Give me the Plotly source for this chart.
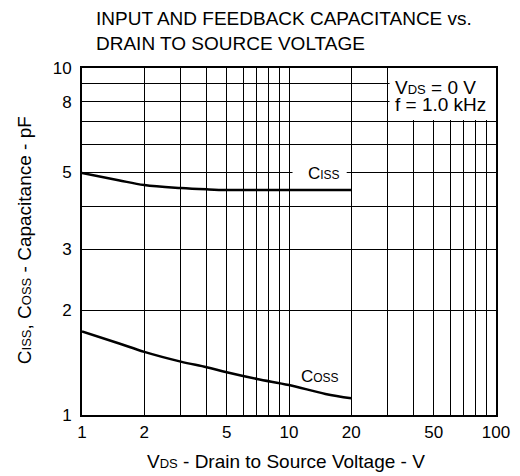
import plotly.graph_objects as go

# ---- data ----
vds = [1, 1.5, 2, 3, 4, 5, 7, 10, 15, 20]
ciss = [4.98, 4.75, 4.60, 4.51, 4.47, 4.45, 4.45, 4.45, 4.45, 4.45]
coss = [1.74, 1.61, 1.52, 1.425, 1.373, 1.328, 1.27, 1.22, 1.15, 1.117]

x_major = [1, 2, 5, 10, 20, 50, 100]
x_major_text = ["1", "2", "5", "10", "20", "50", "100"]
x_minor = [3, 4, 6, 7, 8, 9, 30, 40, 60, 70, 80, 90]
y_major = [1, 2, 3, 5, 8, 10]
y_major_text = ["1", "2", "3", "5", "8", "10"]
y_minor = [4, 6, 7, 9]

FONT = "Liberation Sans, Arial, sans-serif"


def sm(t, size=12):
    return '<span style="font-size:%dpx">%s</span>' % (size, t)


fig = go.Figure()
fig.add_trace(go.Scatter(x=vds, y=ciss, mode="lines", line=dict(color="black", width=2.5, shape="spline"),
                         showlegend=False, hoverinfo="skip"))
fig.add_trace(go.Scatter(x=vds, y=coss, mode="lines", line=dict(color="black", width=2.5, shape="spline"),
                         showlegend=False, hoverinfo="skip"))

# page body adds 8px margin; figure sized so that the plot area lands where the reference has it
fig.update_layout(
    width=512, height=468,
    margin=dict(l=74, r=24, t=60, b=61, autoexpand=False),
    paper_bgcolor="white", plot_bgcolor="white",
    font=dict(family=FONT, size=17, color="black"),
    xaxis=dict(type="log", range=[0, 2], tickvals=x_major, ticktext=x_major_text,
               showgrid=True, gridcolor="black", gridwidth=1,
               minor=dict(tickvals=x_minor, showgrid=True, gridcolor="black", gridwidth=1, ticklen=0),
               showline=True, linecolor="black", linewidth=2, mirror=True,
               ticks="", ticklabelstandoff=1, zeroline=False, automargin=False,
               tickfont=dict(size=17)),
    yaxis=dict(type="log", range=[0, 1], tickvals=y_major, ticktext=y_major_text,
               showgrid=True, gridcolor="black", gridwidth=1,
               minor=dict(tickvals=y_minor, showgrid=True, gridcolor="black", gridwidth=1, ticklen=0),
               showline=True, linecolor="black", linewidth=2, mirror=True,
               ticks="", ticklabelstandoff=5, zeroline=False, automargin=False,
               tickfont=dict(size=17)),
)

# axis titles
fig.add_annotation(xref="paper", yref="paper", x=0.493, y=-0.1354, xanchor="center", yanchor="middle",
                   text="V" + sm("DS", 13) + " - Drain to Source Voltage - V", showarrow=False,
                   font=dict(size=19))
fig.add_annotation(xref="paper", yref="paper", x=-0.140, y=0.504, xanchor="center", yanchor="middle",
                   textangle=-90,
                   text="C" + sm("ISS", 13) + ", C" + sm("OSS", 13) + " - Capacitance - pF", showarrow=False,
                   font=dict(size=19))

# white box behind the conditions text
fig.add_shape(type="rect", xref="x", yref="y", x0=30.6, x1=100, y0=7.08, y1=10,
              fillcolor="white", line=dict(width=0), layer="between")
# white gap in the 5 pF gridline behind the Ciss label
fig.add_shape(type="rect", xref="x", yref="y", x0=10.4, x1=19.0, y0=4.74, y1=5.25,
              fillcolor="white", line=dict(width=0), layer="between")

fig.add_annotation(xref="paper", yref="paper", x=0.751, y=0.945, xanchor="left", yanchor="middle",
                   text="V" + sm("DS", 13) + " = 0 V", showarrow=False, align="left",
                   font=dict(size=19))
fig.add_annotation(xref="paper", yref="paper", x=0.751, y=0.896, xanchor="left", yanchor="middle",
                   text="f = 1.0 kHz", showarrow=False, align="left",
                   font=dict(size=19))

fig.add_annotation(xref="x", yref="y", x=1.169, y=0.6974, xanchor="center", yanchor="middle",
                   text="C" + sm("ISS"), showarrow=False, font=dict(size=17))
fig.add_annotation(xref="x", yref="y", x=1.150, y=0.1124, xanchor="center", yanchor="middle",
                   text="C" + sm("OSS"), showarrow=False, font=dict(size=17))

fig.add_annotation(xref="paper", yref="paper", x=0.029, y=1.1075, xanchor="left", yanchor="middle",
                   text="INPUT AND FEEDBACK CAPACITANCE vs.<br>DRAIN TO SOURCE VOLTAGE",
                   showarrow=False, align="left", font=dict(size=19))

fig.write_html("out.html")
